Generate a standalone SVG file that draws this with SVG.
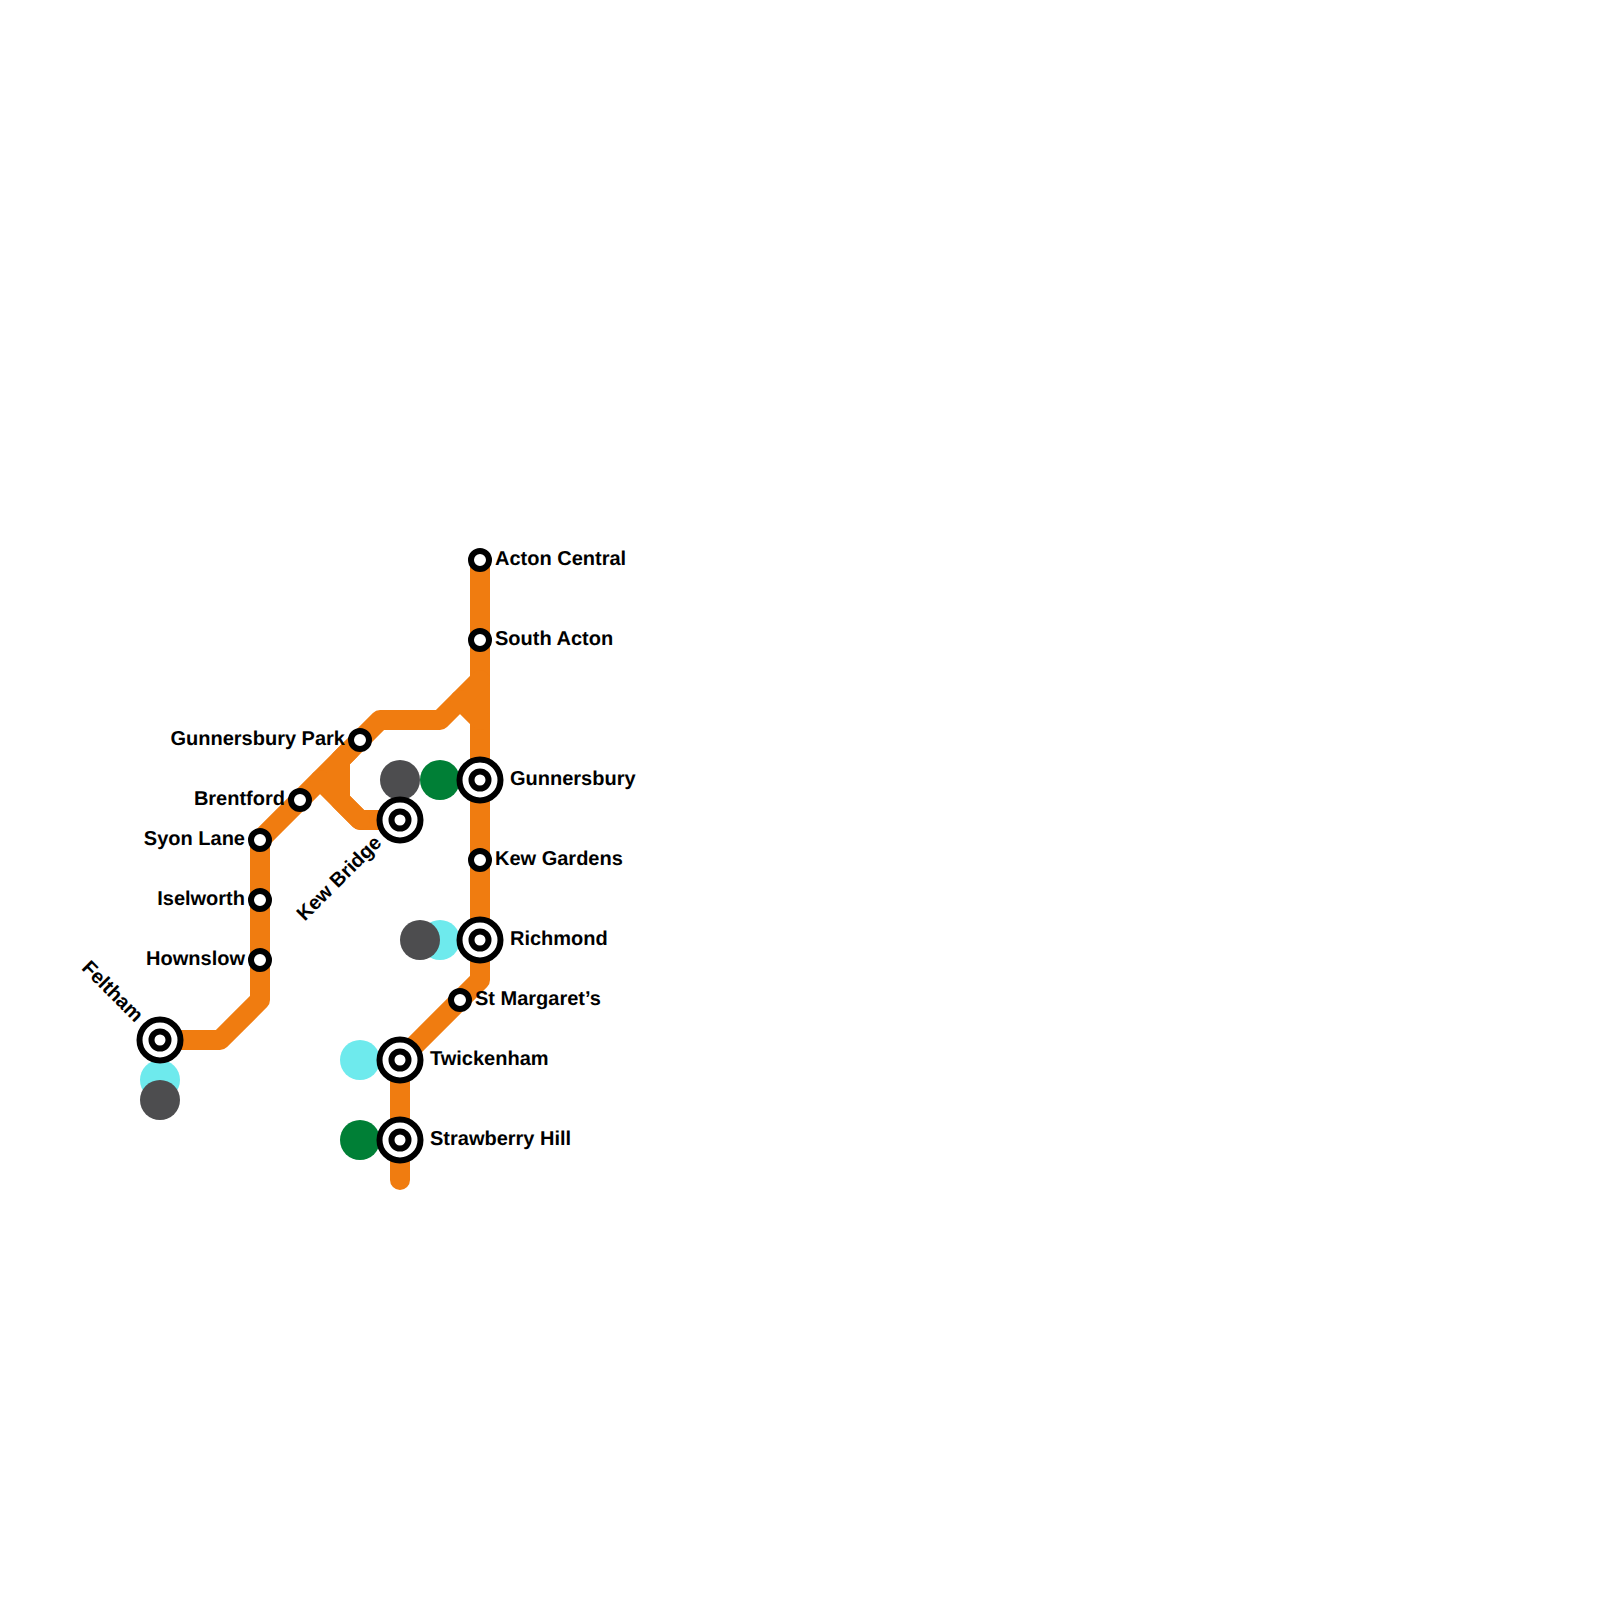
<svg xmlns="http://www.w3.org/2000/svg" width="1600" height="1600" viewBox="0 0 1600 1600">
<style>
.l{fill:none;stroke:#f07c10;stroke-width:20;stroke-linecap:round;stroke-linejoin:round}
.s{fill:#fff;stroke:#000;stroke-width:6}
.t{font-family:"Liberation Sans",Arial,sans-serif;font-weight:700;font-size:20px;fill:#000;text-rendering:geometricPrecision}
.e{text-anchor:end}
.g{fill:#4d4d4f}.v{fill:#007f36}.c{fill:#6eeaed}
</style>
<defs>
<g id="st"><circle class="s" r="9"/></g>
<g id="ic"><circle class="s" r="20.5"/><circle class="s" r="8.5"/></g>
</defs>
<rect width="1600" height="1600" fill="#fff"/>
<g id="connectors">
<path class="l" d="M480 560V980L400 1060V1180"/>
<path class="l" d="M480 680L440 720H380L260 840V1000L220 1040H160"/>
<path class="l" d="M460 700L480 720"/>
<path class="l" d="M320 780L360 820H400"/>
<path class="l" d="M350 750L340 760V800L360 820"/>
</g>
<g id="interchange-dots">
<circle class="g" cx="400" cy="780" r="20"/>
<circle class="v" cx="440" cy="780" r="20"/>
<circle class="c" cx="440" cy="940" r="20"/>
<circle class="g" cx="420" cy="940" r="20"/>
<circle class="c" cx="160" cy="1080" r="20"/>
<circle class="g" cx="160" cy="1100" r="20"/>
<circle class="c" cx="360" cy="1060" r="20"/>
<circle class="v" cx="360" cy="1140" r="20"/>
</g>
<g id="acton-central"><use href="#st" x="480" y="560"/><text class="t" x="495" y="565">Acton Central</text></g>
<g id="south-acton"><use href="#st" x="480" y="640"/><text class="t" x="495" y="645">South Acton</text></g>
<g id="gunnersbury"><use href="#ic" x="480" y="780"/><text class="t" x="510" y="785">Gunnersbury</text></g>
<g id="kew-gardens"><use href="#st" x="480" y="860"/><text class="t" x="495" y="865">Kew Gardens</text></g>
<g id="richmond"><use href="#ic" x="480" y="940"/><text class="t" x="510" y="945">Richmond</text></g>
<g id="st-margarets"><use href="#st" x="460" y="1000"/><text class="t" x="475" y="1005">St Margaret’s</text></g>
<g id="twickenham"><use href="#ic" x="400" y="1060"/><text class="t" x="430" y="1065">Twickenham</text></g>
<g id="strawberry-hill"><use href="#ic" x="400" y="1140"/><text class="t" x="430" y="1145">Strawberry Hill</text></g>
<g id="kew-bridge"><use href="#ic" x="400" y="820"/><text class="t e" transform="translate(382.5 844) rotate(-45)">Kew Bridge</text></g>
<g id="gunnersbury-park"><use href="#st" x="360" y="740"/><text class="t e" x="345" y="745">Gunnersbury Park</text></g>
<g id="brentford"><use href="#st" x="300" y="800"/><text class="t e" x="285" y="805">Brentford</text></g>
<g id="syon-lane"><use href="#st" x="260" y="840"/><text class="t e" x="245" y="845">Syon Lane</text></g>
<g id="iselworth"><use href="#st" x="260" y="900"/><text class="t e" x="245" y="905">Iselworth</text></g>
<g id="hownslow"><use href="#st" x="260" y="960"/><text class="t e" x="245" y="965">Hownslow</text></g>
<g id="feltham"><use href="#ic" x="160" y="1040"/><text class="t e" transform="translate(135 1023) rotate(45)">Feltham</text></g>
</svg>
